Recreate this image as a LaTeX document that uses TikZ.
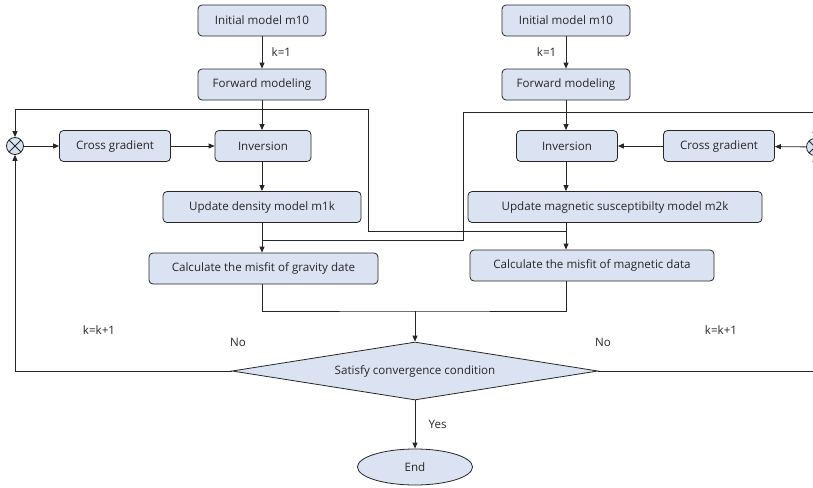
\documentclass[tikz,border=0pt]{standalone}
\usepackage{fontspec}
\setmainfont{Open Sans}
\usetikzlibrary{arrows.meta,shapes.geometric}
\definecolor{boxfill}{RGB}{219,227,242}
\tikzset{proc/.style={draw=black!85, fill=boxfill, rounded corners=4pt,
      minimum height=31pt, inner sep=0pt, text=black!85,
      font=\fontsize{11.6}{13}\selectfont}}
\tikzset{lbl/.style={text=black!85, font=\fontsize{11.6}{13}\selectfont}}
\tikzset{arr/.style={-{Triangle[length=6pt,width=5pt]}}}
\tikzset{sum/.style={circle, draw=black!85, fill=boxfill, minimum size=17pt, inner sep=0pt,
      path picture={\draw[black!85] (path picture bounding box.north west) -- (path picture bounding box.south east)
        (path picture bounding box.north east) -- (path picture bounding box.south west);}}}

\begin{document}
\begin{tikzpicture}[x=1pt,y=-1pt,line width=0.8pt,draw=black!85]
    \useasboundingbox (0,0) rectangle (813,487);
    % gravity side
    \node[proc,minimum width=128] (initL) at (262,20.5) {Initial model m10};
    \node[proc,minimum width=128] (fwdL) at (262,84.5) {Forward modeling};
    \node[proc,minimum width=96] (invL) at (263,146) {Inversion};
    \node[proc,minimum width=111] (crossL) at (115,146) {Cross gradient};
    \node[sum] (sumL) at (15,146) {};
    \node[proc,minimum width=198] (updL) at (262,207) {Update density model m1k};
    \node[proc,minimum width=229] (calcL) at (263.5,268.5) {Calculate the misfit of gravity date};
    % magnetic side
    \node[proc,minimum width=128] (initR) at (566,20.5) {Initial model m10};
    \node[proc,minimum width=128] (fwdR) at (566,84.5) {Forward modeling};
    \node[proc,minimum width=101] (invR) at (567,146) {Inversion};
    \node[proc,minimum width=111] (crossR) at (719,146) {Cross gradient};
    \node[sum] (sumR) at (815,147) {};
    \node[proc,minimum width=294] (updR) at (615,207) {Update magnetic susceptibilty model m2k};
    \node[proc,minimum width=244] (calcR) at (592,265.5) {Calculate the misfit of magnetic data};
    % decision
    \node[diamond,aspect=6.3,draw=black!85,fill=boxfill,minimum width=366,minimum height=58,inner sep=0pt,lbl] (cond) at (415,371) {Satisfy convergence condition};
    \node[ellipse,draw=black!85,fill=boxfill,minimum width=115,minimum height=36,lbl] (stop) at (415,467) {End};

    \draw[arr] (initL) -- (fwdL) node[lbl,midway,right=6pt] {k=1};
    \draw[arr] (initR) -- (fwdR) node[lbl,midway,left=6pt] {k=1};
    \draw[arr] (fwdL.south) -- (fwdL.south |- invL.north);
    \draw[arr] (fwdR.south) -- (fwdR.south |- invR.north);
    \draw[arr] (sumL) -- (crossL);
    \draw[arr] (crossL) -- (invL);
    \draw[arr] (sumR) -- (crossR);
    \draw[arr] (crossR) -- (invR);
    \draw[arr] (invL.south -| fwdL.south) -- (updL.north -| fwdL.south);
    \draw[arr] (invR.south -| fwdR.south) -- (updR.north -| fwdR.south);
    \draw[arr] (updL.south -| fwdL.south) -- (calcL.north -| fwdL.south);
    \draw[arr] (updR.south -| fwdR.south) -- (calcR.north -| fwdR.south);

    % cross feedback
    \coordinate (jL) at (262,240);
    \coordinate (jR) at (566,231);
    \draw[arr] (jR) -| (368,109) -| (sumL.north);
    \draw[arr] (jL) -| (463,112) -| (sumR.north);

    % misfit to decision
    \coordinate (mid) at (415,311);
    \draw (calcL.south -| fwdL.south) |- (mid) -| (calcR.south -| fwdR.south);
    \draw[arr] (mid) -- (cond.north);
    \draw[arr] (cond.south) -- (stop.north) node[lbl,midway,right=10pt] {Yes};
    \draw[arr] (cond.west) -| (sumL.south);
    \draw[arr] (cond.east) -| (sumR.south);

    \node[lbl] (kL) at (99,330) {k=k+1};
    \node[lbl] (noL) at (238,342) {No};
    \node[lbl] (noR) at (603,342) {No};
    \node[lbl] (kR) at (721,330) {k=k+1};
  \end{tikzpicture}
\end{document}
